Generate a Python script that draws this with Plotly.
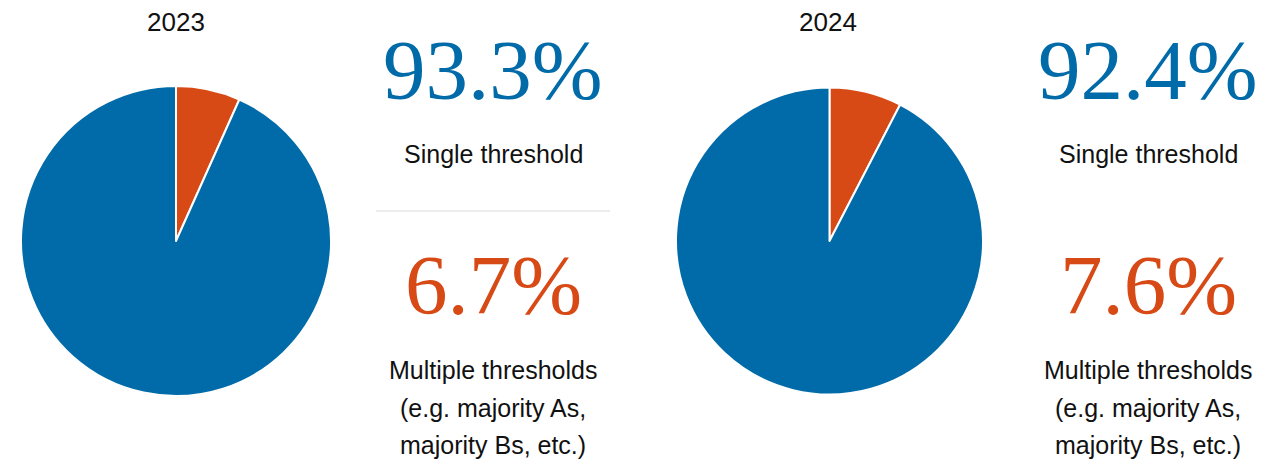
import plotly.graph_objects as go

# Share of grading policies by threshold type
years = ["2023", "2024"]
categories = ["Multiple thresholds", "Single threshold"]
multiple_pct = [6.7, 7.6]
single_pct = [93.3, 92.4]

BLUE = "#006ba8"
ORANGE = "#d74915"
LABEL_FONT = "Liberation Sans"
NUM_FONT = "Liberation Serif"

W, H = 1261, 462

def px_x(x):
    return x / W

def px_y(y):
    return 1 - y / H

fig = go.Figure()

pie_boxes = [
    (21, 331, 86, 396),
    (676, 983, 87, 395),
]
text_cx = [493, 1148]
title_cx = [176, 828]

for i, year in enumerate(years):
    x0, x1, y0, y1 = pie_boxes[i]
    fig.add_trace(go.Pie(
        labels=categories,
        values=[multiple_pct[i], single_pct[i]],
        marker=dict(colors=[ORANGE, BLUE], line=dict(color="white", width=2)),
        sort=False,
        direction="clockwise",
        rotation=0,
        textinfo="none",
        hoverinfo="label+percent",
        showlegend=False,
        domain=dict(x=[px_x(x0), px_x(x1)], y=[px_y(y1), px_y(y0)]),
    ))

    # year title
    fig.add_annotation(x=px_x(title_cx[i]), y=px_y(22), xref="paper", yref="paper",
                       text=year, showarrow=False, xanchor="center", yanchor="middle",
                       font=dict(family=LABEL_FONT, size=26, color="#111111"))
    # big single-threshold share
    fig.add_annotation(x=px_x(text_cx[i]), y=px_y(70), xref="paper", yref="paper",
                       text=f"{single_pct[i]}%", showarrow=False, xanchor="center", yanchor="middle",
                       font=dict(family=NUM_FONT, size=85, color=BLUE))
    fig.add_annotation(x=px_x(text_cx[i]), y=px_y(154), xref="paper", yref="paper",
                       text="Single threshold", showarrow=False, xanchor="center", yanchor="middle",
                       font=dict(family=LABEL_FONT, size=25, color="#111111"))
    # big multiple-threshold share
    fig.add_annotation(x=px_x(text_cx[i]), y=px_y(285), xref="paper", yref="paper",
                       text=f"{multiple_pct[i]}%", showarrow=False, xanchor="center", yanchor="middle",
                       font=dict(family=NUM_FONT, size=85, color=ORANGE))
    for j, line in enumerate(["Multiple thresholds", "(e.g. majority As,", "majority Bs, etc.)"]):
        fig.add_annotation(x=px_x(text_cx[i]), y=px_y(370 + 37.5 * j), xref="paper", yref="paper",
                           text=line, showarrow=False, xanchor="center", yanchor="middle",
                           font=dict(family=LABEL_FONT, size=25, color="#111111"))

# divider between the two 2023 figures
fig.add_shape(type="line", xref="paper", yref="paper",
              x0=px_x(376), x1=px_x(610), y0=px_y(211), y1=px_y(211),
              line=dict(color="#e6e6e6", width=1.5))

fig.update_layout(
    width=W, height=H,
    margin=dict(l=0, r=0, t=0, b=0),
    paper_bgcolor="white",
    plot_bgcolor="white",
)

fig.write_html("out.html")
